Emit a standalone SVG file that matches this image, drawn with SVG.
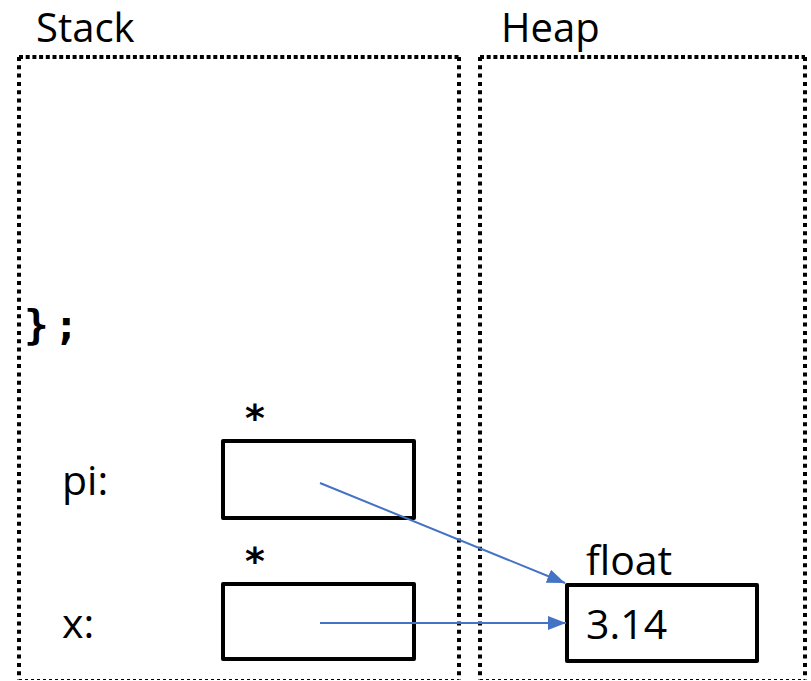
<svg xmlns="http://www.w3.org/2000/svg" width="811" height="681" viewBox="0 0 811 681">
  <style>
    .title { font-family: "Open Sans", "Liberation Sans", sans-serif; font-size: 40px; fill: #000; }
    .label { font-family: "Open Sans", "Liberation Sans", sans-serif; font-size: 41px; fill: #000; }
    .code { font-family: "DejaVu Sans Mono", "Liberation Mono", monospace; font-weight: bold; fill: #000; }
    .frame-v { stroke: #000; stroke-width: 4; stroke-dasharray: 4 4.3; fill: none; }
    .frame-h { stroke: #000; stroke-width: 4; stroke-dasharray: 4 2.7; fill: none; }
    .frame-b { stroke: #000; stroke-width: 1.2; stroke-dasharray: 3 3; fill: none; }
    .cell { fill: #fff; stroke: #000; stroke-width: 4; stroke-linejoin: round; }
    .ptr { stroke: #4472C4; stroke-width: 2; fill: none; }
  </style>
  <defs>
    <marker id="arrow" markerWidth="9" markerHeight="7" refX="9" refY="3.5" orient="auto" markerUnits="strokeWidth">
      <path d="M0,0 L9,3.5 L0,7 Z" fill="#4472C4"/>
    </marker>
  </defs>
  <rect width="811" height="681" fill="#fff"/>

  <!-- Stack frame -->
  <g id="stack">
    <text class="title" x="36" y="42">Stack</text>
    <line class="frame-h" x1="19" y1="57" x2="459" y2="57"/>
    <line class="frame-v" x1="19" y1="57" x2="19" y2="680"/>
    <line class="frame-v" x1="459" y1="57" x2="459" y2="680"/>
    <line class="frame-b" x1="19" y1="679.5" x2="459" y2="679.5"/>
    <text class="code" font-size="41" x="24 54" y="339">};</text>
  </g>

  <!-- Heap frame -->
  <g id="heap">
    <text class="title" x="501" y="42">Heap</text>
    <line class="frame-h" x1="480" y1="57" x2="805" y2="57"/>
    <line class="frame-v" x1="480" y1="57" x2="480" y2="680"/>
    <line class="frame-v" x1="805" y1="57" x2="805" y2="680"/>
    <line class="frame-b" x1="480" y1="679.5" x2="805" y2="679.5"/>
  </g>

  <!-- pi: pointer cell -->
  <g id="pi">
    <text class="label" x="62" y="495">pi:</text>
    <text class="code" font-size="38" x="255" y="431" text-anchor="middle">*</text>
    <rect class="cell" x="223" y="441" width="191" height="77"/>
  </g>

  <!-- x: pointer cell -->
  <g id="x">
    <text class="label" x="62" y="638">x:</text>
    <text class="code" font-size="38" x="255" y="574" text-anchor="middle">*</text>
    <rect class="cell" x="223" y="584" width="191" height="75"/>
  </g>

  <!-- float object on the heap -->
  <g id="float">
    <text class="label" x="586" y="575">float</text>
    <rect class="cell" x="567" y="585" width="190" height="76"/>
    <text class="label" x="586" y="639">3.14</text>
  </g>

  <g id="connectors">
    <line class="ptr" x1="320" y1="483" x2="565" y2="583" marker-end="url(#arrow)"/>
    <line class="ptr" x1="320" y1="623" x2="566" y2="623" marker-end="url(#arrow)"/>
  </g>
</svg>
